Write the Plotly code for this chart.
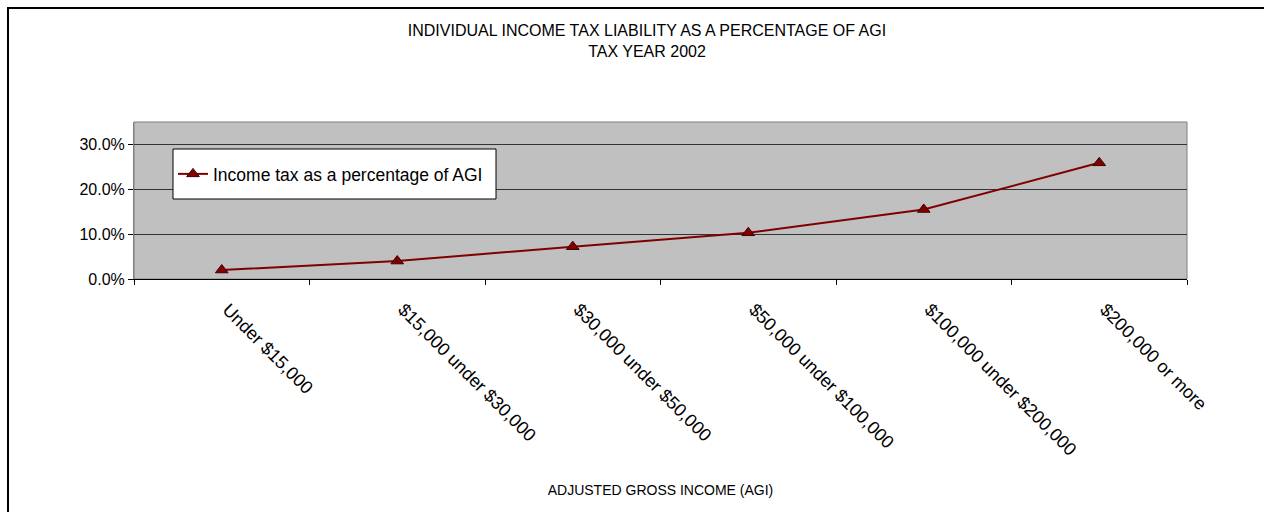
import plotly.graph_objects as go

# Income brackets and tax liability as a share of AGI, tax year 2002
brackets = [
    "Under $15,000",
    "$15,000 under $30,000",
    "$30,000 under $50,000",
    "$50,000 under $100,000",
    "$100,000 under $200,000",
    "$200,000 or more",
]
tax_pct = [0.020, 0.040, 0.072, 0.103, 0.155, 0.259]
y_ticks = [0.0, 0.1, 0.2, 0.3]
y_tick_labels = ["0.0%", "10.0%", "20.0%", "30.0%"]

W, H = 1264, 512
L, R, T, B = 134, 77, 122, 233
pw, ph = W - L - R, H - T - B

def px_x(x):
    return (x - L) / pw

def px_y(y):
    return (H - B - y) / ph

FONT = "Liberation Sans, Arial, sans-serif"

fig = go.Figure()
fig.add_trace(go.Scatter(
    x=brackets,
    y=tax_pct,
    mode="lines+markers",
    name="Income tax as a percentage of AGI",
    line=dict(color="#800000", width=2),
    marker=dict(symbol="triangle-up", size=11, color="#800000",
                line=dict(color="#400000", width=1)),
))

# outer chart frame: left edge up to the top edge, running off the page
frame_path = "M {:.5f},{:.5f} L {:.5f},{:.5f} L {:.5f},{:.5f}".format(
    px_x(8), px_y(H + 6), px_x(8), px_y(8), px_x(W + 6), px_y(8))

shapes = [
    dict(type="path", xref="paper", yref="paper", path=frame_path,
         line=dict(color="#000000", width=2), fillcolor="rgba(0,0,0,0)",
         layer="above"),
    # legend box
    dict(type="rect", xref="paper", yref="paper",
         x0=px_x(173), x1=px_x(496), y0=px_y(199), y1=px_y(149),
         line=dict(color="#000000", width=1), fillcolor="#FFFFFF",
         layer="above"),
    # gray border around the plot area
    dict(type="rect", xref="paper", yref="paper", x0=0, x1=1, y0=0, y1=1,
         line=dict(color="#808080", width=1), layer="below"),
]

fig.update_layout(
    width=W, height=H,
    margin=dict(l=L, r=R, t=T, b=B, autoexpand=False),
    paper_bgcolor="#FFFFFF",
    plot_bgcolor="#C0C0C0",
    font=dict(family=FONT, color="#000000", size=14),
    title=dict(
        text="INDIVIDUAL INCOME TAX LIABILITY AS A PERCENTAGE OF AGI<br>TAX YEAR 2002",
        x=px_x(647), xref="paper", xanchor="center",
        y=1 - 36 / H, yref="container", yanchor="middle",
        font=dict(family=FONT, size=16),
    ),
    showlegend=True,
    legend=dict(
        x=px_x(173), y=px_y(174), xanchor="left", yanchor="middle",
        bgcolor="rgba(0,0,0,0)", borderwidth=0,
        font=dict(family=FONT, size=17.5),
    ),
    shapes=shapes,
    xaxis=dict(
        type="category",
        range=[-0.5, 5.5],
        tickangle=45,
        tickson="boundaries",
        ticks="outside", ticklen=5, tickcolor="#000000",
        showline=True, linecolor="#000000", linewidth=1,
        showgrid=False, zeroline=False,
        tickfont=dict(family=FONT, size=18),
        ticklabelstandoff=12,
        ticklabelshift=6,
        title=dict(text="ADJUSTED GROSS INCOME (AGI)", standoff=26,
                   font=dict(family=FONT, size=14)),
    ),
    yaxis=dict(
        range=[0, 0.35],
        tickvals=y_ticks, ticktext=y_tick_labels,
        ticks="outside", ticklen=5, tickcolor="#000000",
        showline=True, linecolor="#808080", linewidth=1,
        showgrid=True, gridcolor="#333333", gridwidth=1,
        zeroline=False,
        tickfont=dict(family=FONT, size=16),
    ),
)

fig.write_html("out.html")
